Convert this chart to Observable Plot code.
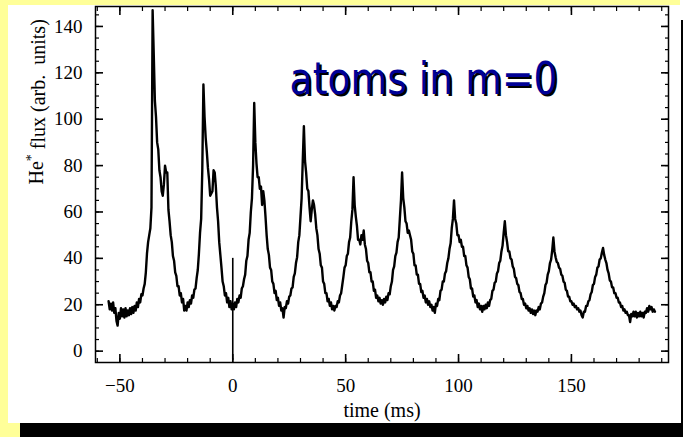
<!DOCTYPE html>
<html>
<head>
<meta charset="utf-8">
<script src="https://cdn.jsdelivr.net/npm/d3@7"></script>
<script src="https://cdn.jsdelivr.net/npm/@observablehq/plot@0.6"></script>
<style>
html, body { margin: 0; padding: 0; background: #ffffff; }
#wrap { position: relative; width: 683px; height: 437px; overflow: hidden; background: #ffffff; }
#wrap svg { position: absolute; left: 0; top: 0; }
.deco { position: absolute; z-index: 2; }
</style>
</head>
<body>
<div id="wrap">
  <div class="deco" style="left:0;top:0;width:8px;height:437px;background:#ffff99"></div>
  <div class="deco" style="left:0;top:0;width:680px;height:5px;background:#ffff99"></div>
  <div class="deco" style="left:0;top:423px;width:20px;height:14px;background:#ffff99"></div>
  <div class="deco" style="left:20px;top:423px;width:663px;height:14px;background:#000000"></div>
  <div class="deco" style="left:681px;top:20px;width:2px;height:417px;background:#000000"></div>
</div>
<script>
const timeStart = -55;
const timeStep = 0.5;
const flux = [
  // -55
  21.5, 18, 20.5, 17.5, 21, 16.5, 18.5, 13, 11, 16.5, 14, 18.5, 15, 18, 14.5, 18.5, 15, 17.5, 15.5, 18.5,
  // -45
  16, 19, 16.5, 19.5, 17.5, 21, 19, 22.5, 21, 24.5, 24, 27, 29, 34, 42, 47, 50, 53, 62, 147,
  // -35
  128, 108, 101, 90, 87, 78, 75, 69, 67, 72, 80, 77, 77, 61, 56, 50, 47, 41, 39, 34,
  // -25
  32.5, 28, 28, 24, 25, 21, 22.5, 17.5, 19.5, 17.5, 21, 19, 22, 20.5, 24, 23, 26.5, 27, 31.5, 35,
  // -15
  42, 51, 57, 78, 115, 101, 92, 86, 79, 74, 67, 68, 69, 78, 77, 71, 62, 56, 47, 41.5,
  // -5
  36, 30, 28, 24, 25, 21, 23, 19, 21.5, 18, 20.5, 18, 21, 19, 22.5, 21, 24, 23, 27, 28,
  // 5
  31, 33, 39, 41, 48, 51, 60, 66, 80, 107, 90, 81, 75, 75, 70, 71, 63, 69, 65, 58,
  // 15
  50, 44, 41.5, 36, 35, 30, 29, 25, 26, 22, 23, 19.5, 21, 17.5, 18.5, 14.5, 19, 18.5, 21.5, 20.5,
  // 25
  23.5, 24, 27, 27.5, 32, 33.5, 38, 40.5, 47, 50, 58, 66, 82, 97, 82, 77, 70, 69, 62, 56,
  // 35
  61, 65, 63, 59, 53, 50, 44, 42, 37, 36, 30, 29, 25, 25, 21.5, 22.5, 19.5, 21, 18, 19.5,
  // 45
  17.5, 19.5, 19, 21.5, 21, 24, 25, 28.5, 32, 36, 37, 41, 42, 47, 49, 56, 61, 75, 63, 58,
  // 55
  54, 48, 48, 46, 50, 48, 52, 46, 44, 39, 38, 34, 34, 30, 30, 26, 26.5, 23, 24, 21.5,
  // 65
  23, 20.5, 22, 20, 22.5, 21, 23.5, 22, 25, 24.5, 28, 30, 35, 36.5, 41, 42.5, 47, 49, 57, 65,
  // 75
  77, 66, 62, 56, 55, 51, 52, 50, 48, 43, 42, 37, 37, 33, 33, 29, 29, 25.5, 26, 23,
  // 85
  24, 21, 22.5, 20, 21.5, 19, 20, 17.5, 19, 16.5, 20.5, 19.5, 22.5, 22, 26, 26.5, 30, 30, 33.5, 34.5,
  // 95
  38, 40, 44, 46.5, 53, 57, 65, 57, 55, 50, 50, 47, 48, 45, 45, 41, 41, 37, 36, 32,
  // 105
  31, 27, 27, 23.5, 24, 21, 22, 19, 20.5, 18, 19.5, 17, 19.5, 18, 20, 18.5, 21, 19.5, 22, 22.5,
  // 115
  26, 26.5, 29.5, 30, 33.5, 34.5, 38, 39, 43, 45.5, 51, 56, 50, 47, 43, 43, 40, 39.5, 36.5, 35.5,
  // 125
  32, 31.5, 29, 28.5, 25.5, 25, 22.5, 22.5, 20, 20.5, 18.5, 19.5, 17.5, 18.5, 16.5, 18, 16, 17.5, 15.5, 17.5,
  // 135
  17, 19, 18, 20.5, 21, 23.5, 25, 28.5, 29.5, 33, 34.5, 38, 39.5, 43.5, 49, 43, 40.5, 38.5, 38, 36,
  // 145
  35.5, 33, 32.5, 30, 29.5, 26.5, 26, 23.5, 23.5, 21.5, 21.5, 20, 20.5, 19, 19.5, 18, 18.5, 17, 17.5, 15.5,
  // 155
  14.5, 17, 17, 19.5, 19.5, 21.5, 22, 24.5, 25.5, 28.5, 29, 32, 33, 36, 36.5, 39.5, 40, 42.5, 44.5, 41.5,
  // 165
  39.5, 38, 35, 33.5, 30.5, 30, 27.5, 27.5, 25, 25, 23, 23, 21, 21, 19, 19.5, 17.5, 18, 16.5, 17,
  // 175
  15.5, 15.5, 12.5, 16, 15, 17, 15, 17, 14.5, 16.5, 15, 17, 15, 16.5, 14.5, 17, 16.5, 18.5, 17, 19.5,
  // 185
  18, 19, 17, 18, 17
];

// Trigger spike at t = 0
const spikeTime = [0];
const spikeLow = [-4];
const spikeHigh = [40];

// Axis ticks
const majorX = [-50, 0, 50, 100, 150];
const minorX = [-60, -50, -40, -30, -20, -10, 0, 10, 20, 30, 40, 50, 60, 70, 80, 90, 100, 110, 120, 130, 140, 150, 160, 170, 180, 190];
const majorY = [0, 20, 40, 60, 80, 100, 120, 140];
const minorY = [0, 5, 10, 15, 20, 25, 30, 35, 40, 45, 50, 55, 60, 65, 70, 75, 80, 85, 90, 95, 100, 105, 110, 115, 120, 125, 130, 135, 140, 145];

const xLabel = "time (ms)";
const yLabel = "He* flux (arb.  units)";
const titleText = "atoms in m=0";

const points = flux.map((v, i) => ({t: timeStart + i * timeStep, v}));
const spikes = spikeTime.map((t, i) => ({t, lo: spikeLow[i], hi: spikeHigh[i]}));

const titleOpts = {
  x: () => 84.5, y: () => 110.9, text: d => d,
  fontFamily: "DejaVu Sans", fontSize: 44, textAnchor: "middle", lineAnchor: "bottom"
};

const svg = Plot.plot({
  width: 683,
  height: 437,
  marginLeft: 95,
  marginRight: 15,
  marginTop: 6,
  marginBottom: 75,
  x: {domain: [-60.8, 193], label: null},
  y: {domain: [-4.9, 148.6], label: null},
  style: {fontFamily: "'Liberation Serif', 'Times New Roman', serif", fontSize: "19px", color: "black", background: "transparent", overflow: "visible"},
  marks: [
    Plot.line(points, {x: "t", y: "v", stroke: "black", strokeWidth: 2.4, strokeLinejoin: "round"}),
    Plot.ruleX(spikes, {x: "t", y1: "lo", y2: "hi", stroke: "black", strokeWidth: 1.6}),
    // inward ticks, bottom/top
    Plot.axisX(minorX, {anchor: "bottom", tickSize: -4, fill: "none", strokeWidth: 1.2}),
    Plot.axisX(majorX, {anchor: "bottom", tickSize: -8, fill: "none", strokeWidth: 1.6}),
    Plot.axisX(minorX, {anchor: "top", tickSize: -4, fill: "none", strokeWidth: 1.2}),
    Plot.axisX(majorX, {anchor: "top", tickSize: -8, fill: "none", strokeWidth: 1.6}),
    // inward ticks, left/right
    Plot.axisY(minorY, {anchor: "left", tickSize: -4, fill: "none", strokeWidth: 1.2}),
    Plot.axisY(majorY, {anchor: "left", tickSize: -8, fill: "none", strokeWidth: 1.6}),
    Plot.axisY(minorY, {anchor: "right", tickSize: -4, fill: "none", strokeWidth: 1.2}),
    Plot.axisY(majorY, {anchor: "right", tickSize: -8, fill: "none", strokeWidth: 1.6}),
    // tick labels
    Plot.axisX(majorX, {anchor: "bottom", tickSize: 0, tickPadding: 16, label: null}),
    Plot.axisY(majorY, {anchor: "left", tickSize: 0, tickPadding: 13, label: null}),
    Plot.frame({stroke: "black", strokeWidth: 1.5}),
    // axis titles
    Plot.text([xLabel], {frameAnchor: "bottom", text: d => d, dy: 48, lineAnchor: "middle", fontSize: 20}),
    Plot.text([yLabel], {frameAnchor: "left", text: d => d, dx: -53, rotate: -90, lineAnchor: "bottom", fontSize: 20}),
    // annotation with drop shadow
    Plot.text([titleText], {...titleOpts, fill: "black", dx: 2, dy: 2}),
    Plot.text([titleText], {...titleOpts, fill: "#000096"})
  ]
});

document.getElementById("wrap").appendChild(svg);

// superscript asterisk in y label
d3.select(svg).selectAll("text").filter(function () { return this.textContent === yLabel; })
  .each(function () {
    const t = d3.select(this);
    t.text(null);
    t.append("tspan").text("He");
    t.append("tspan").attr("dy", "-0.45em").attr("font-size", "0.7em").text("*");
    t.append("tspan").attr("dy", "0.45em").text(" flux (arb.  units)");
  });

// fit annotation width to the reference
d3.select(svg).selectAll("text").filter(function () { return this.textContent === titleText; })
  .attr("textLength", 268).attr("lengthAdjust", "spacingAndGlyphs");
</script>
</body>
</html>
